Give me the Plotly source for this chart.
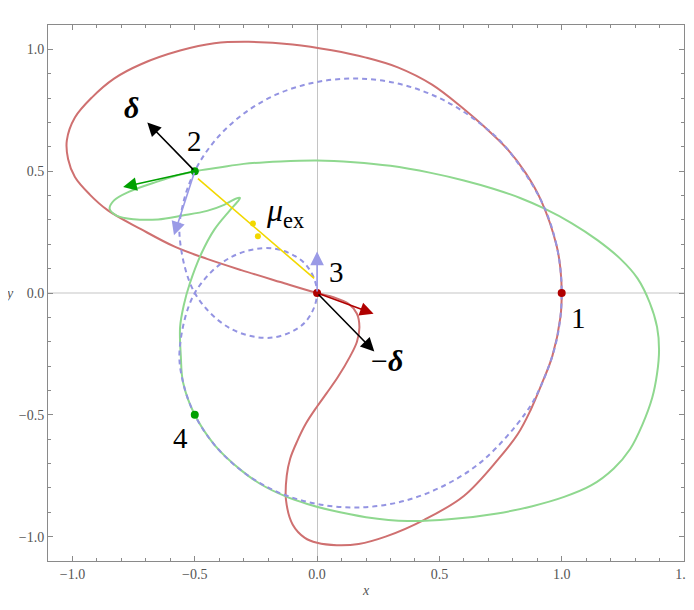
import plotly.graph_objects as go

# ---- data ----
# dashed (limacon-like) path
dash_x = [1.0, 0.979, 0.916, 0.775, 0.683, 0.526, 0.354, 0.176, 0.0, -0.163, -0.304, -0.418, -0.5, -0.548, -0.562,
          -0.5, -0.354, -0.183, -0.05, 0.0,
          -0.05, -0.183, -0.354, -0.5, -0.562, -0.548, -0.5, -0.418, -0.304, -0.163, 0.0, 0.176, 0.354, 0.526,
          0.683, 0.853, 0.916, 0.979, 1.0]
dash_y = [0.0, 0.195, 0.379, 0.594, 0.683, 0.787, 0.854, 0.880, 0.866, 0.816, 0.733, 0.625, 0.5, 0.366, 0.233,
          0.0, -0.146, -0.183, -0.121, 0.0,
          0.121, 0.183, 0.146, 0.0, -0.233, -0.366, -0.5, -0.625, -0.733, -0.816, -0.866, -0.880, -0.854, -0.787,
          -0.683, -0.492, -0.379, -0.195, 0.0]

# red path
red_x = [0.0, 0.07, 0.13, 0.163, 0.173, 0.163, 0.135, 0.085, 0.04, 0.0, -0.045, -0.082, -0.11, -0.124, -0.127,
         -0.1, -0.05, 0.0, 0.08, 0.17, 0.28, 0.44, 0.60, 0.74, 0.82, 0.873, 0.916, 0.962, 0.995, 1.0, 0.995, 0.979,
         0.916, 0.853, 0.775, 0.683, 0.60, 0.47, 0.33, 0.2, 0.06, -0.1, -0.28, -0.42, -0.56, -0.72, -0.83, -0.92,
         -0.99, -1.023, -1.018, -0.99, -0.93, -0.855, -0.72, -0.58, -0.45, -0.31, -0.15, 0.0]
red_y = [0.0, -0.018, -0.045, -0.085, -0.14, -0.2, -0.26, -0.345, -0.41, -0.466, -0.535, -0.61, -0.68, -0.75,
         -0.85, -0.95, -1.005, -1.025, -1.035, -1.03, -1.0, -0.93, -0.833, -0.683, -0.58, -0.48, -0.379, -0.258,
         -0.098, 0.0, 0.098, 0.195, 0.379, 0.492, 0.594, 0.683, 0.755, 0.855, 0.926, 0.966, 0.996, 1.02, 1.031,
         1.025, 0.995, 0.939, 0.88, 0.803, 0.72, 0.626, 0.55, 0.476, 0.405, 0.339, 0.262, 0.189, 0.14, 0.094,
         0.045, 0.0]

# green path
green_x = [-0.5, -0.4, -0.3, -0.15, 0.0, 0.15, 0.3, 0.465, 0.6, 0.72, 0.83, 0.928, 1.04, 1.146, 1.24, 1.31, 1.36,
           1.39, 1.398, 1.39, 1.37, 1.33, 1.28, 1.213, 1.12, 1.01, 0.88, 0.737, 0.55, 0.37, 0.2, 0.057, -0.04,
           -0.133, -0.23, -0.31, -0.418, -0.5, -0.548, -0.557, -0.56, -0.545, -0.52, -0.473, -0.42, -0.36, -0.325,
           -0.315, -0.33, -0.38, -0.45, -0.55, -0.65, -0.75, -0.82, -0.848, -0.83, -0.77, -0.65, -0.57, -0.5]
green_y = [0.5, 0.515, 0.53, 0.54, 0.544, 0.537, 0.522, 0.493, 0.462, 0.428, 0.39, 0.347, 0.287, 0.217, 0.14,
           0.06, -0.04, -0.14, -0.233, -0.33, -0.43, -0.54, -0.64, -0.72, -0.79, -0.837, -0.875, -0.905, -0.928,
           -0.936, -0.92, -0.892, -0.866, -0.833, -0.785, -0.728, -0.625, -0.5, -0.366, -0.26, -0.14, -0.05, 0.04,
           0.162, 0.26, 0.335, 0.375, 0.39, 0.388, 0.362, 0.337, 0.318, 0.302, 0.303, 0.318, 0.346, 0.38, 0.415,
           0.458, 0.483, 0.5]

# yellow segment and points
yellow_line_x = [-0.487, -0.012]
yellow_line_y = [0.469, 0.06]
yellow_pts_x = [-0.262, -0.242]
yellow_pts_y = [0.285, 0.233]

# marked points
red_pts_x = [1.0, 0.0]
red_pts_y = [0.0, 0.0]
green_pts_x = [-0.5, -0.5]
green_pts_y = [0.5, -0.5]

# arrows: tail -> tip
arrow_tail_x = [-0.5, -0.5, -0.5, 0.0, 0.0, 0.0]
arrow_tail_y = [0.5, 0.5, 0.5, 0.0, 0.0, 0.0]
arrow_tip_x = [-0.694, -0.793, -0.585, 0.0, 0.231, 0.234]
arrow_tip_y = [0.70, 0.435, 0.237, 0.17, -0.085, -0.24]
arrow_colors = ["#000000", "#00a000", "#9a9ae6", "#9a9ae6", "#b00000", "#000000"]

# labels
label_text = ["<b><i>δ</i></b>", "2", "3", "1", "4", "−<b><i>δ</i></b>", "<i>μ</i><sub>ex</sub>"]
label_x = [-0.76, -0.502, 0.078, 1.069, -0.559, 0.286, -0.13]
label_y = [0.762, 0.622, 0.085, -0.104, -0.597, -0.279, 0.33]
label_size = [30, 29, 29, 29, 29, 30, 32]

x_ticks = [-1.0, -0.5, 0.0, 0.5, 1.0, 1.5]
y_ticks = [-1.0, -0.5, 0.0, 0.5, 1.0]

SERIF = "Liberation Serif"

fig = go.Figure()
fig.add_trace(go.Scatter(x=red_x, y=red_y, mode="lines",
                         line=dict(color="#cf7070", width=2, shape="spline", smoothing=1.0), hoverinfo="skip"))
fig.add_trace(go.Scatter(x=green_x, y=green_y, mode="lines",
                         line=dict(color="#8fd88f", width=2, shape="spline", smoothing=1.0), hoverinfo="skip"))
fig.add_trace(go.Scatter(x=dash_x, y=dash_y, mode="lines",
                         line=dict(color="#9494e2", width=2, shape="spline", smoothing=1.0, dash="5px,4px"),
                         hoverinfo="skip"))
fig.add_trace(go.Scatter(x=yellow_line_x, y=yellow_line_y, mode="lines",
                         line=dict(color="#f2d800", width=1.6), hoverinfo="skip"))
fig.add_trace(go.Scatter(x=yellow_pts_x, y=yellow_pts_y, mode="markers",
                         marker=dict(color="#f2d800", size=6), hoverinfo="skip"))

for tx, ty, hx, hy, c in zip(arrow_tail_x, arrow_tail_y, arrow_tip_x, arrow_tip_y, arrow_colors):
    fig.add_annotation(x=hx, y=hy, ax=tx, ay=ty, xref="x", yref="y", axref="x", ayref="y",
                       text="", showarrow=True, arrowhead=2, arrowsize=1.7, arrowwidth=1.6, arrowcolor=c)

fig.add_trace(go.Scatter(x=red_pts_x, y=red_pts_y, mode="markers",
                         marker=dict(color="#b00000", size=8), hoverinfo="skip"))
fig.add_trace(go.Scatter(x=green_pts_x, y=green_pts_y, mode="markers",
                         marker=dict(color="#00a000", size=8), hoverinfo="skip"))

for t, lx, ly, s in zip(label_text, label_x, label_y, label_size):
    fig.add_annotation(x=lx, y=ly, xref="x", yref="y", text=t, showarrow=False,
                       font=dict(family=SERIF, size=s, color="black"))

fig.add_annotation(x=0.5, y=-0.072, xref="paper", yref="paper", text="<i>x</i>", showarrow=False,
                   font=dict(family=SERIF, size=14, color="#555"))
fig.add_annotation(x=-0.07, y=0.5, xref="paper", yref="paper", text="<i>y</i>", showarrow=False,
                   font=dict(family=SERIF, size=14, color="#555"))

axis_common = dict(showgrid=False, showline=True, linecolor="#8a8a8a", linewidth=1, mirror="ticks",
                   ticks="inside", ticklen=5, tickcolor="#8a8a8a", tickformat=".1f", automargin=False,
                   ticklabeloverflow="allow",
                   tickfont=dict(family=SERIF, size=14, color="#555"),
                   minor=dict(dtick=0.1, ticks="inside", ticklen=3, tickcolor="#8a8a8a"))

# page body has an 8px default margin, so the figure is sized/offset to compensate
fig.update_layout(
    width=686, height=602,
    margin=dict(l=40, r=10, t=17, b=49),
    paper_bgcolor="white", plot_bgcolor="white",
    showlegend=False,
    xaxis=dict(range=[-1.1, 1.5], tickvals=x_ticks, zeroline=True, zerolinecolor="#c4c4c4",
               zerolinewidth=1, **axis_common),
    yaxis=dict(range=[-1.1, 1.1], tickvals=y_ticks, zeroline=True, zerolinecolor="#e2e2e2",
               zerolinewidth=2, **axis_common),
)

fig.write_html("out.html")
